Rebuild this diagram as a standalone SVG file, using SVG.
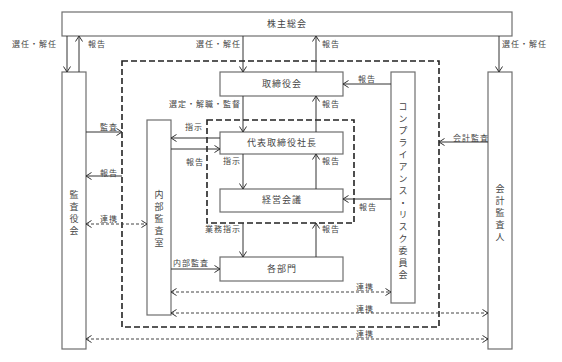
<svg xmlns="http://www.w3.org/2000/svg" width="562" height="362" viewBox="0 0 562 362">
<style>
.box{fill:#fff;stroke:#6e6e6e;stroke-width:1.2}
.lbl{font-family:"Noto Sans CJK JP","Liberation Sans",sans-serif;font-size:9px;fill:#444;letter-spacing:1px}
.sm{font-family:"Noto Sans CJK JP","Liberation Sans",sans-serif;font-size:8px;fill:#444;letter-spacing:1px}
.vt{font-family:"Noto Sans CJK JP","Liberation Sans",sans-serif;font-size:9px;fill:#444;writing-mode:vertical-rl;letter-spacing:3px}
.ln{fill:none;stroke:#333;stroke-width:1;marker-end:url(#ah)}
.dl{fill:none;stroke:#444;stroke-width:1;stroke-dasharray:3 2;marker-start:url(#ah);marker-end:url(#ah)}
.grp{fill:none;stroke:#222;stroke-width:1.6;stroke-dasharray:6 3}
</style>
<defs>
<marker id="ah" markerUnits="userSpaceOnUse" markerWidth="10" markerHeight="10" refX="6" refY="4" orient="auto-start-reverse">
<path d="M0.5,0.5 L6,4 L0.5,7.5" fill="none" stroke="#333" stroke-width="1"/>
</marker>
</defs>
<rect width="562" height="362" fill="#fff"/>
<g id="groups">
<rect class="grp" x="122" y="61" width="317" height="266"/>
<rect class="grp" x="207" y="120" width="147" height="103"/>
</g>
<g id="kabunushi"><rect class="box" x="62" y="12" width="450" height="24"/><text class="lbl" x="287" y="27" text-anchor="middle">株主総会</text></g>
<g id="kansayakukai"><rect class="box" x="62" y="72" width="24" height="277"/><text class="vt" x="74" y="190">監査役会</text></g>
<g id="torishimariyakukai"><rect class="box" x="220" y="72" width="123" height="24"/><text class="lbl" x="282" y="87" text-anchor="middle">取締役会</text></g>
<g id="shacho"><rect class="box" x="220" y="132" width="123" height="22"/><text class="lbl" x="282" y="146" text-anchor="middle">代表取締役社長</text></g>
<g id="keieikaigi"><rect class="box" x="220" y="189" width="123" height="23"/><text class="lbl" x="282" y="203" text-anchor="middle">経営会議</text></g>
<g id="kakubumon"><rect class="box" x="220" y="257" width="123" height="24"/><text class="lbl" x="282" y="272" text-anchor="middle">各部門</text></g>
<g id="naibukansa"><rect class="box" x="147" y="120" width="24" height="195"/><text class="vt" x="159" y="190">内部監査室</text></g>
<g id="compliance"><rect class="box" x="391" y="72" width="24" height="231"/><text class="vt" x="403" y="102">コンプライアンス・リスク委員会</text></g>
<g id="kaikeikansanin"><rect class="box" x="488" y="72" width="24" height="277"/><text class="vt" x="500" y="184">会計監査人</text></g>
<g id="connectors">
<line class="ln" x1="67" y1="36" x2="67" y2="72"/>
<line class="ln" x1="79" y1="72" x2="79" y2="36"/>
<line class="ln" x1="243" y1="36" x2="243" y2="72"/>
<line class="ln" x1="316" y1="72" x2="316" y2="36"/>
<line class="ln" x1="499" y1="36" x2="499" y2="72"/>
<line class="ln" x1="391" y1="84" x2="343" y2="84"/>
<line class="ln" x1="243" y1="96" x2="243" y2="132"/>
<line class="ln" x1="316" y1="132" x2="316" y2="96"/>
<line class="ln" x1="243" y1="154" x2="243" y2="189"/>
<line class="ln" x1="316" y1="189" x2="316" y2="154"/>
<line class="ln" x1="391" y1="199" x2="343" y2="199"/>
<line class="ln" x1="243" y1="223" x2="243" y2="257"/>
<line class="ln" x1="316" y1="257" x2="316" y2="223"/>
<line class="ln" x1="220" y1="138" x2="171" y2="138"/>
<line class="ln" x1="171" y1="149" x2="220" y2="149"/>
<line class="ln" x1="86" y1="132" x2="122" y2="132"/>
<line class="ln" x1="122" y1="176" x2="86" y2="176"/>
<line class="ln" x1="171" y1="269" x2="220" y2="269"/>
<line class="ln" x1="488" y1="142" x2="439" y2="142"/>
<line class="dl" x1="86" y1="224" x2="147" y2="224"/>
<line class="dl" x1="171" y1="292" x2="391" y2="292"/>
<line class="dl" x1="171" y1="313" x2="488" y2="313"/>
<line class="dl" x1="86" y1="339" x2="488" y2="339"/>
</g>
<g id="labels">
<text class="sm" x="57" y="47" text-anchor="end">選任・解任</text>
<text class="sm" x="88" y="47">報告</text>
<text class="sm" x="241" y="47" text-anchor="end">選任・解任</text>
<text class="sm" x="322" y="47">報告</text>
<text class="sm" x="502" y="47">選任・解任</text>
<text class="sm" x="358" y="82">報告</text>
<text class="sm" x="241" y="107" text-anchor="end">選定・解職・監督</text>
<text class="sm" x="322" y="107">報告</text>
<text class="sm" x="185" y="130">指示</text>
<text class="sm" x="186" y="165">報告</text>
<text class="sm" x="241" y="164" text-anchor="end">指示</text>
<text class="sm" x="322" y="164">報告</text>
<text class="sm" x="359" y="210">報告</text>
<text class="sm" x="241" y="232" text-anchor="end">業務指示</text>
<text class="sm" x="322" y="232">報告</text>
<text class="sm" x="100" y="130">監査</text>
<text class="sm" x="100" y="176">報告</text>
<text class="sm" x="100" y="222">連携</text>
<text class="sm" x="173" y="266">内部監査</text>
<text class="sm" x="356" y="290">連携</text>
<text class="sm" x="356" y="312">連携</text>
<text class="sm" x="356" y="337">連携</text>
<text class="sm" x="453" y="141">会計監査</text>
</g>
</svg>
